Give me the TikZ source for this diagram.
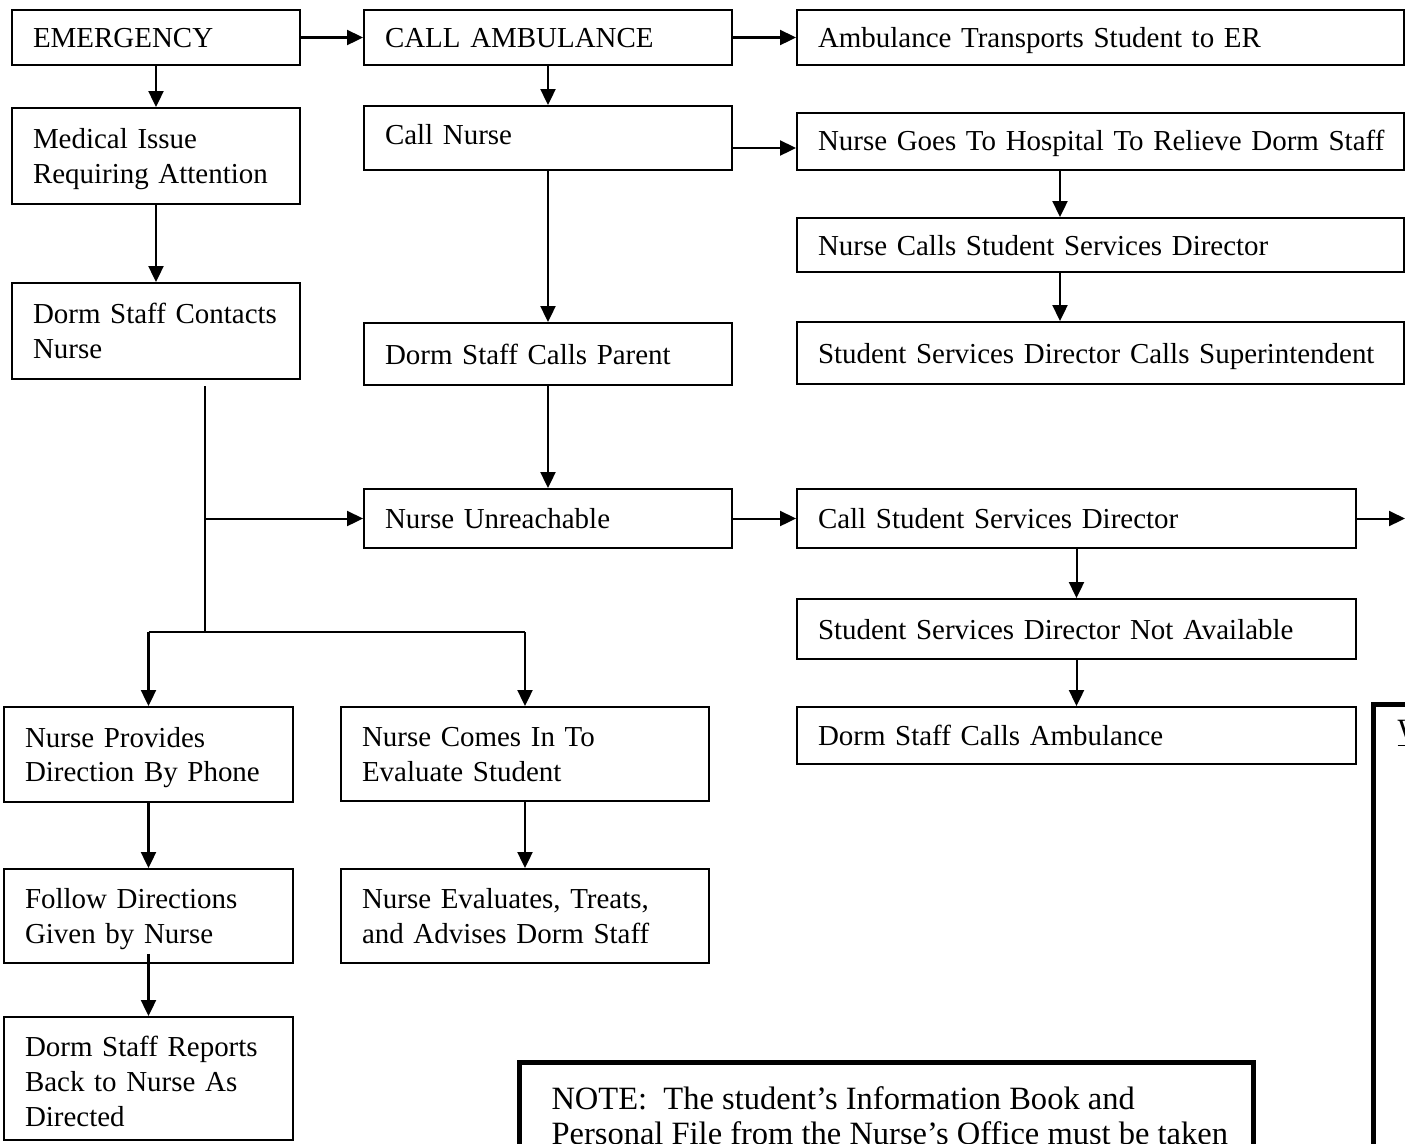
\documentclass[tikz,border=0pt]{standalone}
\usepackage{fontspec}
\setmainfont{Liberation Serif}
\usetikzlibrary{arrows.meta}
\newcommand{\pxu}{0.3937pt}
\newcommand{\boxfont}{\fontsize{11.4pt}{13.7pt}\selectfont}
\newcommand{\notefont}{\fontsize{12.8pt}{13.7pt}\selectfont}
\tikzset{
  box/.style={draw, line width=0.75pt, rectangle, inner xsep=21*\pxu, inner ysep=0pt,
    font=\boxfont},
  arr/.style={line width=0.8pt, -{Triangle[length=16*\pxu, width=15*\pxu]}},
  ln/.style={line width=0.8pt},
  thickbox/.style={draw, line width=2pt},
  notetxt/.style={inner sep=0pt, align=left, font=\notefont}
}
\newcommand{\bx}[7][-1.2pt]{% [lower], name, cx, cy, w, h, text
  \node[box, minimum width=#5*\pxu, minimum height=#6*\pxu, text width=#5*\pxu-42*\pxu] (#2) at (#3,#4)
    {\noindent\raisebox{#1}[\height][\depth]{\begin{tabular}{@{}l@{}}#7\end{tabular}}};}
\begin{document}
\begin{tikzpicture}[x=\pxu, y=-\pxu]
\useasboundingbox (0,0) rectangle (1405,1143);
\clip (0,0) rectangle (1405,1143);
\fill[white] (0,0) rectangle (1405,1143);

% column 1
\bx{emg}{156}{37.5}{288}{55}{EMERGENCY}
\bx{medical}{156}{156}{288}{96}{Medical Issue\\Requiring Attention}
\bx{contacts}{156}{331}{288}{96}{Dorm Staff Contacts\\Nurse}
% column 2
\bx{callamb}{548}{37.5}{368}{55}{CALL AMBULANCE}
\bx[0pt]{callnurse}{548}{138}{368}{64}{Call Nurse}
\bx{parent}{548}{354}{368}{62}{Dorm Staff Calls Parent}
\bx{unreach}{548}{518.5}{368}{59}{Nurse Unreachable}
% column 3
\bx{ambtr}{1100.5}{37.5}{607}{55}{Ambulance Transports Student to ER}
\bx[-0.8pt]{nursegoes}{1100.5}{141.5}{607}{57}{Nurse Goes To Hospital To Relieve Dorm Staff}
\bx{nursecalls}{1100.5}{245}{607}{54}{Nurse Calls Student Services Director}
\bx{supt}{1100.5}{353}{607}{62}{Student Services Director Calls Superintendent}
\bx{callssd}{1076.5}{518.5}{559}{59}{Call Student Services Director}
\bx{notavail}{1076.5}{629}{559}{60}{Student Services Director Not Available}
\bx{dormamb}{1076.5}{735.5}{559}{57}{Dorm Staff Calls Ambulance}
% lower left
\bx{provides}{148.5}{754.5}{289}{95}{Nurse Provides\\Direction By Phone}
\bx{comes}{525}{754}{368}{94}{Nurse Comes In To\\Evaluate Student}
\bx{follow}{148.5}{916}{289}{94}{Follow Directions\\Given by Nurse}
\bx{evaluates}{525}{916}{368}{94}{Nurse Evaluates, Treats,\\and Advises Dorm Staff}
\bx[-2.4pt]{reports}{148.5}{1078.5}{289}{123}{Dorm Staff Reports\\Back to Nurse As\\Directed}

% note box (cut off)
\draw[thickbox] (519.5,1062.5) rectangle (1253.5,1300);
\node[notetxt, anchor=base west] (noteA) at (551,1109) {NOTE:\ \ The student’s Information Book and};
\node[notetxt, anchor=base west] (noteB) at (551,1144) {Personal File from the Nurse’s Office must be taken};
% right box (cut off)
\draw[thickbox] (1373.5,704.5) rectangle (1500,1300);
\node[notetxt, anchor=base west] (wtext) at (1397,741) {\underline{W}};

% helper coordinates
\coordinate (cx1) at (1060,0);
\coordinate (cy1) at (0,148);
\coordinate (b0) at (205,386);
\coordinate (b1) at (205,518.5);
\coordinate (b2) at (205,632);
\coordinate (edgeR) at (1405,518.5);

% connectors
\draw[arr] (emg.east) -- (callamb.west);
\draw[arr] (callamb.east) -- (ambtr.west);
\draw[arr] (emg.south) -- (medical.north);
\draw[arr] (medical.south) -- (contacts.north);
\draw[arr] (callamb.south) -- (callnurse.north);
\draw[arr] (callnurse.east |- cy1) -- (nursegoes.west |- cy1);
\draw[arr] (callnurse.south) -- (parent.north);
\draw[arr] (nursegoes.south -| cx1) -- (nursecalls.north -| cx1);
\draw[arr] (nursecalls.south -| cx1) -- (supt.north -| cx1);
\draw[arr] (parent.south) -- (unreach.north);
\draw[arr] (unreach.east) -- (callssd.west);
\draw[arr] (callssd.east) -- (edgeR);
\draw[arr] (callssd.south) -- (notavail.north);
\draw[arr] (notavail.south) -- (dormamb.north);
\draw[ln] (b0) -- (b2);
\draw[arr] (b1) -- (unreach.west);
\draw[ln] (provides.north |- b2) -- (comes.north |- b2);
\draw[arr] (provides.north |- b2) -- (provides.north);
\draw[arr] (comes.north |- b2) -- (comes.north);
\draw[arr] (provides.south) -- (follow.north);
\draw[arr] ([yshift=10*\pxu]follow.south) -- (reports.north);
\draw[arr] (comes.south) -- (evaluates.north);
\end{tikzpicture}
\end{document}
